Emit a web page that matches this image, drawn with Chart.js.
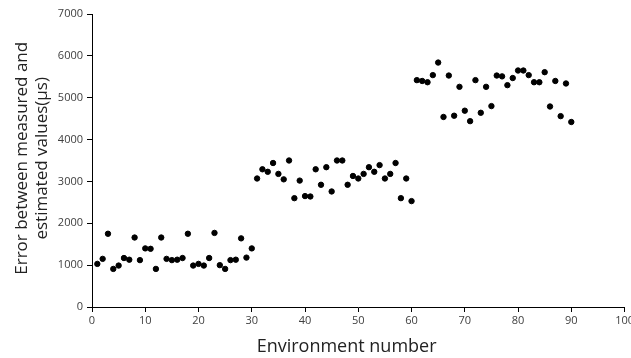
<!DOCTYPE html>
<html>
<head>
<meta charset="utf-8">
<script src="https://cdn.jsdelivr.net/npm/chart.js@4"></script>
<style>
  html, body { margin: 0; padding: 0; background: #fff; overflow: hidden; }
  #wrap { position: relative; width: 636px; height: 358px; }
</style>
</head>
<body>
<div id="wrap"><canvas id="chart"></canvas></div>
<script>
// environment index 1..90, error values
const envNumbers = Array.from({ length: 90 }, (_, i) => i + 1);
const errorValues = [
  1030, 1150, 1750, 910, 990, 1170, 1130, 1660, 1120, 1400,
  1390, 910, 1660, 1150, 1120, 1130, 1170, 1750, 990, 1030,
  990, 1170, 1770, 1000, 910, 1120, 1130, 1640, 1180, 1400,
  3070, 3290, 3230, 3440, 3180, 3050, 3500, 2600, 3020, 2650,
  2640, 3290, 2920, 3340, 2760, 3500, 3500, 2920, 3130, 3070,
  3180, 3340, 3230, 3390, 3070, 3180, 3440, 2600, 3070, 2530,
  5420, 5400, 5370, 5540, 5840, 4540, 5530, 4570, 5260, 4690,
  4440, 5420, 4640, 5260, 4800, 5530, 5510, 5300, 5470, 5650,
  5650, 5540, 5370, 5370, 5610, 4790, 5400, 4560, 5340, 4420
];
const xTicks = [0, 10, 20, 30, 40, 50, 60, 70, 80, 90, 100];
const yTicks = [0, 1000, 2000, 3000, 4000, 5000, 6000, 7000];

const points = envNumbers.map((x, i) => ({ x: x, y: errorValues[i] }));
const fontFamily = "'Open Sans', 'Liberation Sans', sans-serif";
const nb = '\u00a0';

new Chart(document.getElementById('chart'), {
  type: 'scatter',
  data: {
    datasets: [{
      data: points,
      backgroundColor: '#000',
      borderColor: '#000',
      pointRadius: 2.7,
      pointHoverRadius: 2.7,
    }],
  },
  options: {
    responsive: true,
    maintainAspectRatio: false,
    animation: false,
    layout: { padding: { top: 14, left: 0, right: 0, bottom: 0 } },
    plugins: { legend: { display: false }, tooltip: { enabled: false } },
    scales: {
      x: {
        type: 'linear',
        min: 0,
        max: 100,
        afterBuildTicks: s => { s.ticks = xTicks.map(v => ({ value: v })); },
        afterFit: s => { s.height = 51; },
        grid: { display: true, drawOnChartArea: false, drawTicks: true, tickLength: 5, color: '#000' },
        border: { color: '#000', width: 1 },
        ticks: { color: '#404040', font: { family: fontFamily, size: 11 }, padding: 2, maxRotation: 0, callback: v => String(v) },
        title: {
          display: true,
          // trailing spaces nudge the title a bit left, like the original
          text: 'Environment number' + nb.repeat(5),
          color: '#222',
          font: { family: fontFamily, size: 18 },
          padding: { top: 0, bottom: 0 },
        },
      },
      y: {
        min: 0,
        max: 7000,
        afterBuildTicks: s => { s.ticks = yTicks.map(v => ({ value: v })); },
        afterFit: s => { s.width = 92; },
        grid: { display: true, drawOnChartArea: false, drawTicks: true, tickLength: 5, color: '#000' },
        border: { color: '#000', width: 1 },
        ticks: { color: '#404040', font: { family: fontFamily, size: 11 }, padding: 4, callback: v => String(v) },
        title: {
          display: true,
          text: [nb + 'Error between measured and', nb + 'estimated values(μs)'],
          color: '#222',
          font: { family: fontFamily, size: 17, lineHeight: 1.2 },
          padding: { top: 12, bottom: 0 },
        },
      },
    },
  },
});
</script>
</body>
</html>
